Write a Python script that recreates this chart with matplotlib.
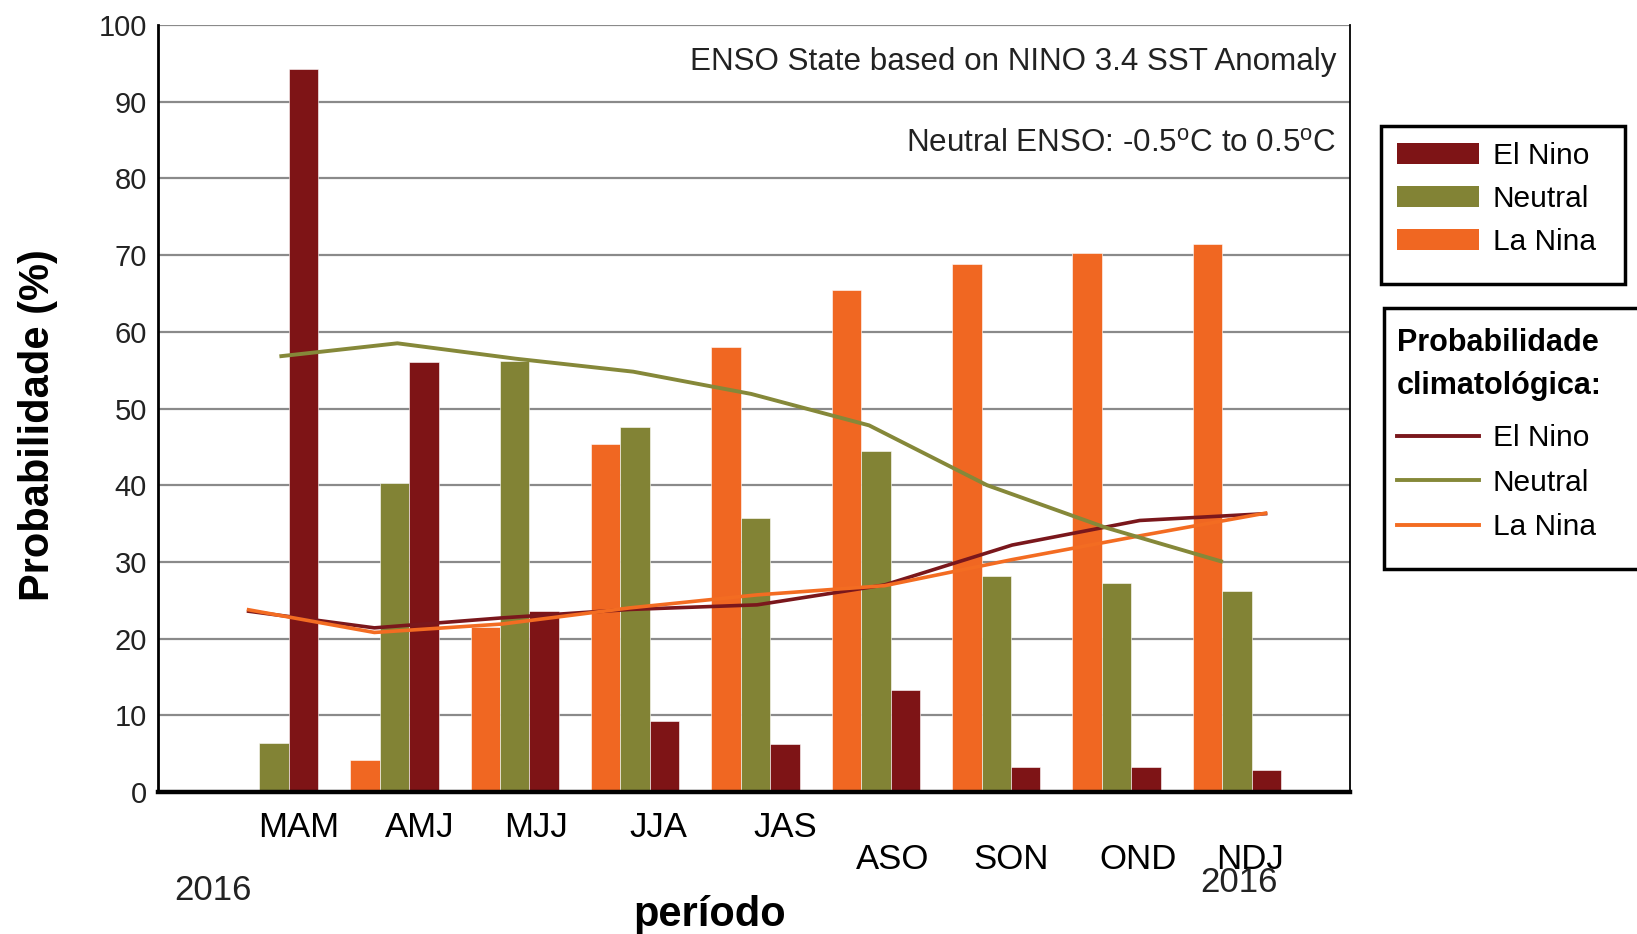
import numpy as np
import matplotlib
matplotlib.use("Agg")
import matplotlib.pyplot as plt
from matplotlib.patches import Patch, Rectangle
from matplotlib.lines import Line2D
from matplotlib.transforms import blended_transform_factory

plt.rcParams['font.family'] = ['Liberation Sans', 'DejaVu Sans']
plt.rcParams['mathtext.fontset'] = 'custom'
plt.rcParams['mathtext.rm'] = 'Liberation Sans'

# ---------------- data ----------------
periods = ['MAM', 'AMJ', 'MJJ', 'JJA', 'JAS', 'ASO', 'SON', 'OND', 'NDJ']
el_nino = [94.3, 56.1, 23.6, 9.3, 6.3, 13.3, 3.3, 3.3, 2.9]
neutral = [6.4, 40.3, 56.2, 47.6, 35.7, 44.4, 28.2, 27.2, 26.2]
la_nina = [0.0, 4.2, 21.5, 45.4, 58.0, 65.4, 68.8, 70.3, 71.5]

clim_el_nino = [23.6, 21.4, 22.7, 23.8, 24.4, 27.0, 32.2, 35.4, 36.3]
clim_neutral = [56.8, 58.5, 56.5, 54.8, 51.9, 47.8, 40.0, 34.5, 30.0]
clim_la_nina = [23.8, 20.8, 21.9, 24.0, 25.7, 26.9, 30.3, 33.4, 36.4]

yticks = [0, 10, 20, 30, 40, 50, 60, 70, 80, 90, 100]
year_labels = ['2016', '2016']
legend_labels = ['El Nino', 'Neutral', 'La Nina']

# ---------------- styling / layout ----------------
c_nino = '#7E1416'
c_neut = '#828335'
c_nina = '#F06722'
c_nino_l = '#7A171C'
c_neut_l = '#858839'
c_nina_l = '#F36C22'

W, H = 1637, 934
fig = plt.figure(figsize=(W / 100, H / 100), dpi=100)
ax = fig.add_axes([158 / W, (H - 792) / H, (1350 - 158) / W, (792 - 25) / H])

idx = np.arange(len(periods))
bw = 0.244
ax.bar(idx - bw, la_nina, bw, color=c_nina, edgecolor='white', linewidth=0.4, zorder=2)
ax.bar(idx, neutral, bw, color=c_neut, edgecolor='white', linewidth=0.4, zorder=2)
ax.bar(idx + bw, el_nino, bw, color=c_nino, edgecolor='white', linewidth=0.4, zorder=2)

# climatological lines (drawn on a slightly different horizontal spacing, as in the source)
x_enso = -0.227 + 1.06 * idx
x_neut = 0.044 + 0.98 * idx
ax.plot(x_enso, clim_el_nino, color=c_nino_l, lw=2.6, zorder=3, solid_capstyle='butt')
ax.plot(x_enso, clim_la_nina, color=c_nina_l, lw=2.6, zorder=4, solid_capstyle='butt')
ax.plot(x_neut, clim_neutral, color=c_neut_l, lw=2.8, zorder=5, solid_capstyle='butt')

ax.set_xlim(-0.965, 8.94)
ax.set_ylim(0, 100)
ax.set_yticks(yticks)
ax.set_yticklabels([str(v) for v in yticks], fontsize=21, color='#222222')
ax.tick_params(axis='y', length=0, pad=8)

# x tick labels in two rows
label_shift = [0.2, 0.21, 0.18, 0.19, 0.25, 0.14, 0.12, 0.18, 0.11]
pos = idx + np.array(label_shift)
upper = slice(0, 5)
lower = slice(5, 9)
ax.set_xticks(pos[upper])
ax.set_xticklabels(periods[upper], fontsize=25)
ax.set_xticks(pos[lower], minor=True)
ax.set_xticklabels(periods[lower], minor=True, fontsize=25)
ax.tick_params(axis='x', which='major', length=0, pad=14)
ax.tick_params(axis='x', which='minor', length=0, pad=37)

ax.grid(axis='y', color='#8a8a8a', lw=1.6, zorder=0)
ax.set_axisbelow(True)
ax.spines['top'].set_visible(False)
ax.spines['right'].set_color('black')
ax.spines['right'].set_linewidth(1.3)
ax.spines['left'].set_linewidth(2.0)
ax.spines['bottom'].set_linewidth(3.2)

ax.set_ylabel('Probabilidade (%)', fontsize=30, fontweight='bold', va='center')
ax.yaxis.set_label_coords(-0.101, 0.479)
ax.set_xlabel('período', fontsize=30, fontweight='bold')
ax.xaxis.set_label_coords(0.463, -0.134)

bt = blended_transform_factory(ax.transData, ax.transAxes)
ax.text(-0.507, -0.1404, year_labels[0], transform=bt, ha='center', va='baseline', fontsize=25, color='#222222')
ax.text(8.017, -0.131, year_labels[1], transform=bt, ha='center', va='baseline', fontsize=25, color='#222222')

ax.text(0.9883, 0.941, 'ENSO State based on NINO 3.4 SST Anomaly', transform=ax.transAxes,
        ha='right', va='baseline', fontsize=22.6, color='#222222')
ax.text(0.9883, 0.835, r'Neutral ENSO: -0.5$^{\mathrm{o}}$C to 0.5$^{\mathrm{o}}$C', transform=ax.transAxes,
        ha='right', va='baseline', fontsize=22.6, color='#222222')

# legend frames (drawn as boxes, the second one runs past the right edge as in the source)
fig.patches.append(Rectangle((1381 / W, 1 - 284 / H), (1625 - 1381) / W, (284 - 126) / H,
                             transform=fig.transFigure, facecolor='white', edgecolor='black',
                             linewidth=2.5, zorder=1))
fig.patches.append(Rectangle((1384 / W, 1 - 569 / H), (1660 - 1384) / W, (569 - 308) / H,
                             transform=fig.transFigure, facecolor='white', edgecolor='black',
                             linewidth=2.5, zorder=1))

h1 = [Patch(facecolor=c_nino, edgecolor='none'), Patch(facecolor=c_neut, edgecolor='none'),
      Patch(facecolor=c_nina, edgecolor='none')]
leg1 = fig.legend(h1, legend_labels, loc='upper left',
                  bbox_to_anchor=(1397 / W, 1 - 142 / H), borderaxespad=0, fontsize=21.5,
                  handlelength=2.75, handleheight=0.68, handletextpad=0.45, labelspacing=0.5,
                  borderpad=0, frameon=False)
leg1.set_zorder(5)

h2 = [Line2D([], [], color=c_nino_l, lw=2.8), Line2D([], [], color=c_neut_l, lw=2.8),
      Line2D([], [], color=c_nina_l, lw=2.8)]
leg2 = fig.legend(h2, legend_labels, loc='upper left',
                  bbox_to_anchor=(1397 / W, 1 - 328 / H), borderaxespad=0, fontsize=21.5,
                  handlelength=2.75, handletextpad=0.45, labelspacing=0.55,
                  borderpad=0, frameon=False,
                  title='Probabilidade\nclimatológica:', alignment='left',
                  title_fontproperties={'weight': 'bold', 'size': 22})
leg2.get_title().set_linespacing(1.55)
leg2._legend_box.sep = 17
leg2.set_zorder(5)

fig.savefig('out.png', dpi=100, facecolor='white')
